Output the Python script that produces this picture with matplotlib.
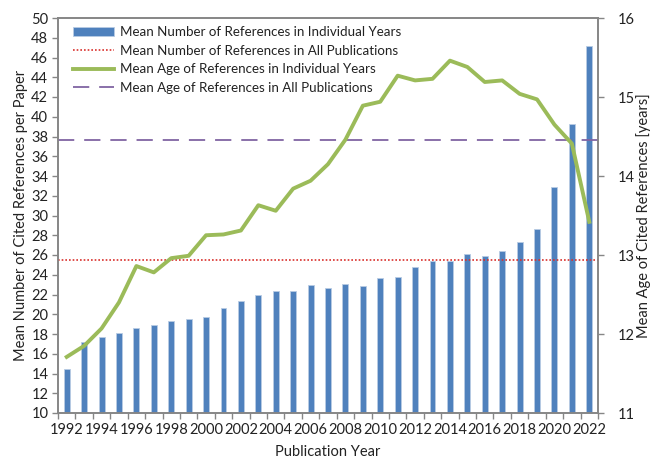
import matplotlib
matplotlib.use("Agg")
import matplotlib.pyplot as plt
import numpy as np

years = list(range(1992, 2023))
mean_refs = [14.5, 17.2, 17.7, 18.1, 18.6, 18.9, 19.3, 19.5, 19.7, 20.6, 21.3,
             22.0, 22.4, 22.4, 23.0, 22.7, 23.1, 22.9, 23.7, 23.8, 24.8, 25.4,
             25.4, 26.1, 25.9, 26.4, 27.3, 28.6, 32.9, 39.3, 47.2]
mean_age = [11.71, 11.85, 12.07, 12.40, 12.86, 12.78, 12.96, 12.99, 13.25, 13.26,
            13.31, 13.63, 13.56, 13.84, 13.94, 14.15, 14.46, 14.89, 14.94, 15.27,
            15.21, 15.23, 15.46, 15.38, 15.19, 15.21, 15.04, 14.97, 14.65, 14.41, 13.42]
mean_refs_all = 25.45
mean_age_all = 14.45
tick_years = [str(y) if (y - 1992) % 2 == 0 else "" for y in years]

labels = ["Mean Number of References in Individual Years",
          "Mean Number of References in All Publications",
          "Mean Age of References in Individual Years",
          "Mean Age of References in All Publications"]

plt.rcParams['font.family'] = ['Lato', 'DejaVu Sans']
fs = 10.5
lfs = 9.6
spine_col = '#868686'
text_col = '#222222'

fig = plt.figure(figsize=(6.5, 4.62), dpi=100)
ax = fig.add_axes([58/650, 1-413/462, (598-58)/650, (413-18)/462])
ax2 = ax.twinx()

x = np.arange(len(years))
b = ax.bar(x, mean_refs, width=0.34, color='#4f81bd', edgecolor='#b8cce4',
           linewidth=0.6, zorder=2, label=labels[0])
l1 = ax.axhline(mean_refs_all, color='#d9302c', linestyle=(0, (1, 1.2)),
                linewidth=1.2, zorder=3, label=labels[1])
l2, = ax2.plot(x, mean_age, color='#9bbb59', linewidth=2.8, zorder=3,
               solid_joinstyle='round', label=labels[2])
l3 = ax2.axhline(mean_age_all, color='#8064a2', linestyle=(0, (9, 5.5)),
                 linewidth=1.3, zorder=2, label=labels[3])

ax.set_xlim(-0.5, len(years) - 0.5)
ax.set_ylim(10, 50)
ax.set_yticks(np.arange(10, 51, 2))
ax2.set_ylim(11, 16)
ax2.set_yticks(np.arange(11, 17, 1))

ax.set_xticks(x)
ax.set_xticklabels(tick_years)
ax.set_xticks(np.arange(-0.5, len(years), 1), minor=True)
ax.tick_params(axis='x', which='major', length=0, pad=7, labelsize=fs, colors=text_col)
ax.tick_params(axis='x', which='minor', length=4, width=1, color=spine_col, direction='out')
ax.tick_params(axis='y', length=4, width=1, color=spine_col, labelsize=fs,
               labelcolor=text_col, pad=3)
ax2.tick_params(axis='y', length=4, width=1, color=spine_col, labelsize=fs,
                labelcolor=text_col, pad=10)

for a in (ax, ax2):
    for s in a.spines.values():
        s.set_color(spine_col)
        s.set_linewidth(1.2)

ax.set_xlabel("Publication Year", fontsize=fs, color=text_col, labelpad=6)
ax.set_ylabel("Mean Number of Cited References per Paper", fontsize=fs,
              color=text_col, labelpad=2)
ax2.set_ylabel("Mean Age of Cited References [years]", fontsize=fs,
               color=text_col, labelpad=1)

leg = ax2.legend(handles=[b, l1, l2, l3], labels=labels, loc='upper left',
                 frameon=False, fontsize=lfs, handlelength=3.1, handletextpad=0.45,
                 labelspacing=0.5, borderaxespad=0, borderpad=0,
                 bbox_to_anchor=(15/540, 1 - 8/395))
for t in leg.get_texts():
    t.set_color(text_col)

fig.savefig("out.png", dpi=100)
